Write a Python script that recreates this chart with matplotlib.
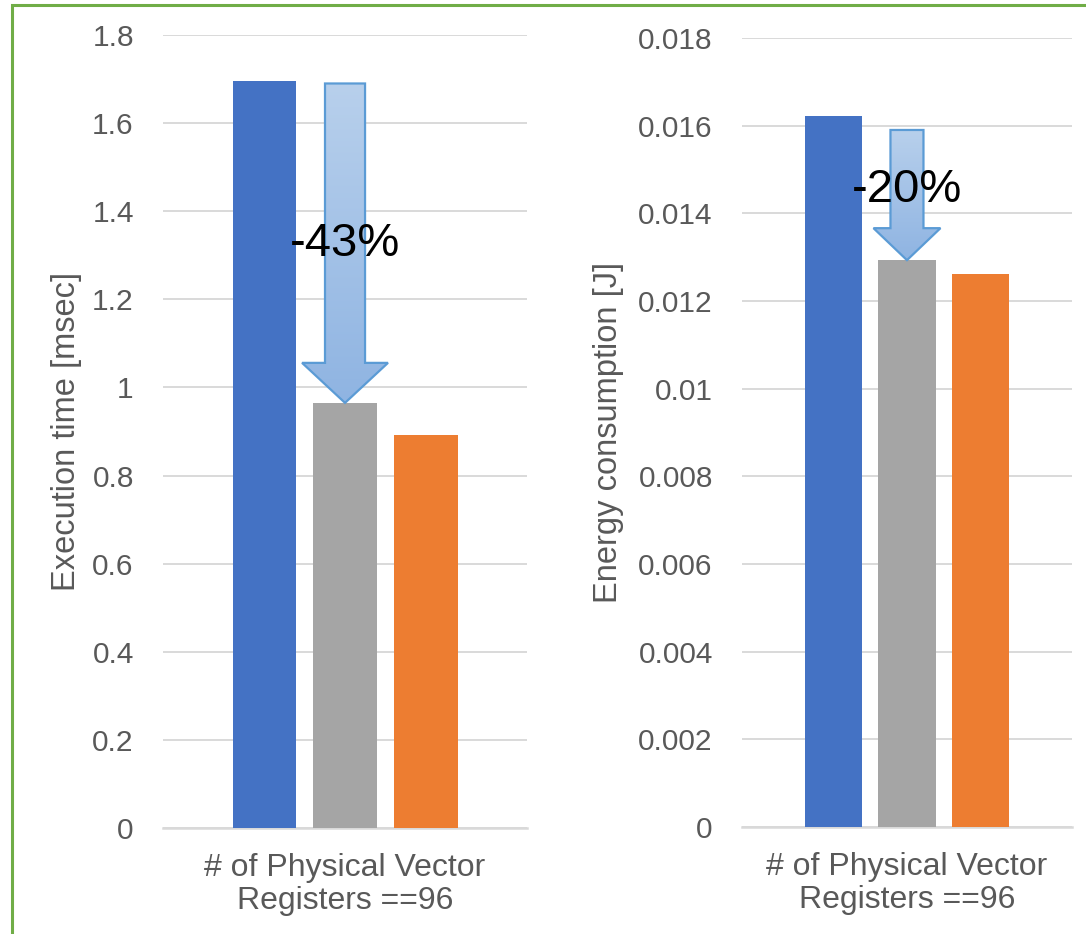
import numpy as np
import matplotlib
matplotlib.use("Agg")
import matplotlib.pyplot as plt
from matplotlib.patches import Polygon, Rectangle

plt.rcParams['font.family'] = ['Liberation Sans', 'DejaVu Sans']

# --- data ---------------------------------------------------------------
category = "# of Physical Vector\nRegisters ==96"
exec_time = [1.696, 0.965, 0.892]        # msec: blue, gray, orange
energy = [0.01622, 0.01293, 0.01261]     # J
exec_ticks = [0, 0.2, 0.4, 0.6, 0.8, 1.0, 1.2, 1.4, 1.6, 1.8]
energy_ticks = [0, 0.002, 0.004, 0.006, 0.008, 0.01, 0.012, 0.014, 0.016, 0.018]
exec_label = "Execution time [msec]"
energy_label = "Energy consumption [J]"
# arrow start (top) and label height, data units
arrow_top = [1.69, 0.0159]
pct_text_y = [1.325, 0.01453]

colors = ["#4472c4", "#a5a5a5", "#ed7d31"]
txt_col = "#595959"
grid_col = "#d9d9d9"
FS = 21.5

fig = plt.figure(figsize=(10.86, 9.34), dpi=100)
axL = fig.add_axes([0.1501, 0.1135, 0.3352, 0.849])
axR = fig.add_axes([0.6832, 0.1146, 0.3039, 0.8448])

bar_w = 0.174
step = 0.222
offsets = np.array([-step, 0, step])


def gradient_arrow(ax, x, top, tip, shaft_w, head_w, head_len):
    base = tip + head_len
    pts = [(x - shaft_w / 2, top), (x + shaft_w / 2, top), (x + shaft_w / 2, base),
           (x + head_w / 2, base), (x, tip), (x - head_w / 2, base), (x - shaft_w / 2, base)]
    poly = Polygon(pts, closed=True, facecolor="none", edgecolor="#5b9bd5", lw=1.6, zorder=5)
    ax.add_patch(poly)
    grad = np.linspace(0, 1, 256).reshape(-1, 1)
    cmap = matplotlib.colors.LinearSegmentedColormap.from_list("g", ["#b8d0ec", "#8fb4e2"])
    im = ax.imshow(grad, cmap=cmap, aspect="auto", origin="upper",
                   extent=[x - head_w / 2, x + head_w / 2, tip, top], zorder=4)
    im.set_clip_path(poly)


def panel(ax, vals, ticks, ylabel, top, ty, shaft_w, head_w, head_len_px):
    ax.bar(offsets, vals, width=bar_w, color=colors, zorder=3)
    ax.set_xlim(-0.5, 0.5)
    ax.set_ylim(0, ticks[-1])
    ax.set_yticks(ticks)
    ax.set_yticklabels([f"{t:g}" for t in ticks])
    ax.set_xticks([0])
    ax.set_xticklabels([category], linespacing=1.12, fontsize=23)
    ax.tick_params(axis="y", length=0, pad=21, labelsize=FS, labelcolor=txt_col)
    ax.tick_params(axis="x", length=0, pad=18, labelcolor=txt_col)
    ax.grid(axis="y", color=grid_col, lw=1.4, zorder=0)
    ax.set_axisbelow(True)
    for s in ["top", "right", "left"]:
        ax.spines[s].set_visible(False)
    ax.spines["bottom"].set_color(grid_col)
    ax.spines["bottom"].set_linewidth(1.8)
    ax.set_ylabel(ylabel, fontsize=23.5, color=txt_col)
    ax.yaxis.label.set_verticalalignment("center")

    # reduction arrow from the first bar level down to the second bar
    head_len = head_len_px / (ax.bbox.height) * ticks[-1]
    gradient_arrow(ax, offsets[1], top, vals[1], shaft_w, head_w, head_len)
    ax.set_xlim(-0.5, 0.5)
    ax.set_ylim(0, ticks[-1])
    pct = round((vals[1] / vals[0] - 1) * 100)
    ax.text(offsets[1], ty, f"{pct}%", ha="center", va="center", fontsize=34,
            color="black", zorder=6)


panel(axL, exec_time, exec_ticks, exec_label, arrow_top[0], pct_text_y[0], 0.11, 0.236, 40)
panel(axR, energy, energy_ticks, energy_label, arrow_top[1], pct_text_y[1], 0.10, 0.203, 32)
axL.yaxis.set_label_coords(-0.264, 0.5)
axR.yaxis.set_label_coords(-0.403, 0.5)

# outer green frame (cut at right and bottom like the source)
fig.patches.append(Rectangle((0.0115, -0.2), 1.5, 1.1946, transform=fig.transFigure,
                             fill=False, edgecolor="#70ad47", lw=2.2))

fig.savefig("out.png", dpi=100)
